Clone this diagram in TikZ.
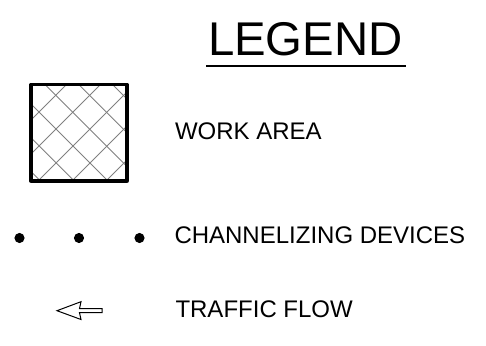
\documentclass[tikz,border=0pt]{standalone}
\usepackage{fontspec}
\setmainfont{Liberation Sans}
\tikzset{
  px/.style={x=0.75pt,y=-0.75pt},
  label/.style={anchor=base west,inner sep=0pt,outer sep=0pt,font=\fontsize{18}{20}\selectfont,text=black},
  titletext/.style={anchor=base west,inner sep=0pt,outer sep=0pt,font=\fontsize{35.5}{38}\selectfont,text=black},
  hatchline/.style={draw=black!50,line width=0.65pt},
  frameline/.style={draw=black,line width=2.5pt,line join=round},
  devicedot/.style={circle,fill=black,draw=none,minimum size=7.6pt,inner sep=0pt},
  flowarrow/.style={draw=black,line width=0.75pt,line join=miter,fill=white}
}
\begin{document}
\begin{tikzpicture}[px]
\useasboundingbox (0,0) rectangle (486,346);
% title
\node[titletext] (title) at (208,55.7) {LEGEND};
\coordinate (ulL) at (206,66);
\coordinate (ulR) at (406,66);
\draw[draw=black,line width=2.2pt] (ulL) -- (ulR);
% work area symbol
\begin{scope}
\clip (31,84.5) rectangle (127,181);
\foreach \c in {28,-5.7,-39.4,-73.1,-106.8,-140.5}
  \draw[hatchline] (0,0-\c) -- (200,200-\c);
\foreach \c in {151,185,219,253,287}
  \draw[hatchline] (0,\c) -- (200,\c-200);
\end{scope}
\draw[frameline] (31,84.5) rectangle (127,181);
\node[label] (work) at (175,139.3) {WORK AREA};
% channelizing devices
\node[devicedot] (d1) at (19.5,238) {};
\node[devicedot] (d2) at (79,238) {};
\node[devicedot] (d3) at (139.5,238) {};
\node[label] (chan) at (174.5,243.3) {CHANNELIZING DEVICES};
% traffic flow
\draw[flowarrow] (57,310.7) -- (81,301.7) -- (79.5,308.7) -- (102,308.7) -- (102,312.7) -- (79.5,312.7) -- (81,319.5) -- cycle;
\node[label] (flow) at (175.5,317) {TRAFFIC FLOW};
\end{tikzpicture}
\end{document}
